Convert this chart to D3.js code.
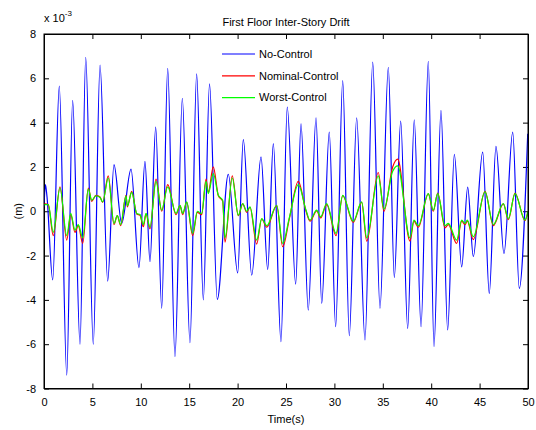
<!DOCTYPE html>
<html>
<head>
<meta charset="utf-8">
<script src="https://cdn.jsdelivr.net/npm/d3@7"></script>
<style>
body { margin: 0; background: #fff; }
svg { font-family: "Liberation Sans", Arial, sans-serif; }
.axis text { font-size: 11px; fill: #000; }
.axis line, .axis path { stroke: #000; }
</style>
</head>
<body>
<svg width="536" height="430"></svg>
<script>
// values (x 10^-3 m), extrema of each trace
var blueT = [0, 0.15, 0.3, 0.9, 1.58, 2.35, 2.96, 3.72, 4.31, 5.09, 5.79, 6.58, 7.23, 8.03, 8.99, 9.81,
  10.43, 10.95, 11.54, 12.16, 12.78, 13.53, 14.29, 15.08, 15.77, 16.46, 17.1, 17.9, 19.04, 20.01, 20.59,
  21.46, 22.42, 23.11, 23.69, 24.48, 25.13, 26.0, 26.55, 27.3, 28.1, 28.69, 29.47, 30.13, 30.86, 31.54,
  32.3, 33.16, 33.96, 34.71, 35.57, 36.19, 36.85, 37.57, 38.25, 38.95, 39.7, 40.29, 41.01, 41.7, 42.39,
  43.15, 43.77, 44.35, 45.32, 46.0, 46.69, 47.52, 48.42, 49.1, 49.97];
var noControl = [0.2, 1.2, 0.7, -3.1, 5.65, -7.4, 5.0, -6.0, 6.95, -6.0, 6.6, -3.15, 2.1, -0.55, 1.9, -2.55,
  2.25, -2.28, 3.8, -4.38, 6.45, -6.56, 5.1, -5.93, 6.2, -4.0, 5.75, -3.98, 1.67, -2.78, 3.23,
  -2.88, 2.45, -2.63, 3.05, -5.89, 4.7, -3.29, 3.95, -4.46, 4.22, -4.16, 3.57, -5.21, 5.9, -5.62,
  4.22, -5.81, 6.73, -4.38, 6.5, -2.99, 4.07, -5.29, 4.13, -5.21, 6.77, -6.11, 4.55, -5.36, 2.57,
  -2.51, 1.09, -2.05, 2.67, -3.71, 2.93, -1.91, 3.57, -3.48, 3.5];

var ctrlT = [0, 0.44, 0.96, 1.65, 2.35, 2.76, 3.2, 3.54, 4.0, 4.58, 4.93, 5.37, 5.79, 6.06, 6.64, 7.23,
  7.57, 7.92, 8.47, 8.61, 9.06, 9.58, 9.92, 10.26, 10.54, 10.95, 11.57, 12.16, 12.78, 13.64, 14.05,
  14.33, 14.74, 15.36, 15.84, 16.29, 16.74, 16.97, 17.49, 18.01, 18.46, 18.7, 19.45, 20.07, 20.53,
  20.94, 21.28, 21.97, 22.49, 23.01, 24.04, 24.66, 25.34, 26.27, 27.07, 27.48, 28.17, 28.58, 29.2,
  30.17, 30.86, 31.95, 32.82, 33.34, 34.53, 35.12, 36.02, 36.54, 37.81, 38.22, 38.67, 39.7, 40.22,
  40.67, 41.43, 41.77, 42.63, 43.15, 43.49, 43.73, 44.35, 45.56, 46.42, 47.45, 47.97, 48.66, 49.69, 50];
var nominalControl = [0.35, 0.3, -1.1, 1.1, -1.3, -0.15, -0.95, -0.65, -1.45, 1.05, 0.45, 0.72, 0.64, 0.4, 1.6, -0.6,
  -0.2, -0.65, 0.72, 0.2, 0.9, -0.12, -0.18, -0.7, -0.12, -0.8, 1.45, 0.0, 1.2, -0.15, 0.25,
  -0.15, 0.4, -1.1, -0.05, -0.15, 1.45, 0.85, 2.0, 0.7, 0.45, -1.4, 1.6, -0.2, 0.33,
  -0.05, 0.18, -1.48, -0.35, -0.72, 0.25, -1.6, -0.35, 1.35, 0.0, -0.45, 0.02, -0.3, 0.3,
  -1.1, 0.7, -0.5, 0.4, -1.35, 1.75, 0.0, 2.0, 2.35, -1.35, -0.45, -0.72, 0.78, 0.0,
  0.82, -0.75, -0.6, -1.45, -0.45, -0.6, -0.45, -1.28, 0.9, -0.65, 0.33, -0.38, 0.82, -0.42, 0.0];
var worstControl = [0.3, 0.3, -0.95, 1.05, -1.1, -0.1, -0.85, -0.6, -1.2, 1.0, 0.5, 0.7, 0.62, 0.42, 1.5, -0.55,
  -0.2, -0.6, 0.7, 0.25, 0.85, -0.1, -0.15, -0.6, -0.1, -0.72, 1.35, 0.05, 1.1, -0.1, 0.27,
  -0.1, 0.42, -1.0, 0.0, -0.1, 1.35, 0.8, 1.7, 0.72, 0.5, -1.2, 1.5, -0.18, 0.35,
  0.0, 0.2, -1.3, -0.33, -0.65, 0.27, -1.45, -0.3, 1.2, 0.05, -0.4, 0.05, -0.25, 0.35,
  -1.0, 0.72, -0.45, 0.42, -1.2, 1.6, 0.1, 1.8, 2.05, -1.2, -0.4, -0.65, 0.8, 0.05,
  0.8, -0.65, -0.55, -1.3, -0.4, -0.55, -0.4, -1.15, 0.87, -0.6, 0.35, -0.33, 0.8, -0.4, 0.0];

var xTicks = [0, 5, 10, 15, 20, 25, 30, 35, 40, 45, 50];
var yTicks = [-8, -6, -4, -2, 0, 2, 4, 6, 8];
var seriesNames = ["No-Control", "Nominal-Control", "Worst-Control"];
var seriesColors = ["#0000ff", "#ff0000", "#00ff00"];

var svg = d3.select("svg"),
    margin = {top: 34, right: 8, bottom: 41.5, left: 44},
    width = +svg.attr("width") - margin.left - margin.right,
    height = +svg.attr("height") - margin.top - margin.bottom;

var x = d3.scaleLinear().domain([0, 50]).range([0, width]);
var y = d3.scaleLinear().domain([-8, 8]).range([height, 0]);

var g = svg.append("g")
    .attr("transform", "translate(" + margin.left + "," + margin.top + ")");

g.append("clipPath").attr("id", "clip")
  .append("rect").attr("width", width).attr("height", height);

// ticks point inwards on all four sides
g.append("g")
    .attr("class", "axis")
    .attr("transform", "translate(0," + height + ")")
    .call(d3.axisBottom(x).tickValues(xTicks).tickSizeInner(-5).tickSizeOuter(0).tickPadding(10));

g.append("g")
    .attr("class", "axis")
    .call(d3.axisTop(x).tickValues(xTicks).tickSizeInner(-5).tickSizeOuter(0).tickFormat(""));

g.append("g")
    .attr("class", "axis")
    .call(d3.axisLeft(y).tickValues(yTicks).tickSizeInner(-5).tickSizeOuter(0).tickPadding(8)
      .tickFormat(function(d) { return String(d); }));

g.append("g")
    .attr("class", "axis")
    .attr("transform", "translate(" + width + ",0)")
    .call(d3.axisRight(y).tickValues(yTicks).tickSizeInner(-5).tickSizeOuter(0).tickFormat(""));

var series = [
  {t: blueT, v: noControl},
  {t: ctrlT, v: nominalControl},
  {t: ctrlT, v: worstControl}
];

var line = d3.line()
    .curve(d3.curveMonotoneX)
    .x(function(d) { return x(d[0]); })
    .y(function(d) { return y(d[1]); });

series.forEach(function(s, i) {
  g.append("path")
      .datum(d3.zip(s.t, s.v))
      .attr("clip-path", "url(#clip)")
      .attr("fill", "none")
      .attr("stroke", seriesColors[i])
      .attr("stroke-width", 1.2)
      .attr("d", line);
});

g.append("rect")
    .attr("width", width)
    .attr("height", height)
    .attr("fill", "none")
    .attr("stroke", "#000")
    .attr("stroke-width", 1);

// legend, no box
var legend = svg.append("g").attr("transform", "translate(222,54)");
seriesNames.forEach(function(name, i) {
  var row = legend.append("g").attr("transform", "translate(0," + (i * 21.8) + ")");
  row.append("line").attr("x1", 0).attr("x2", 33)
      .attr("stroke", seriesColors[i]).attr("stroke-width", 1.2);
  row.append("text").attr("x", 37).attr("dy", "0.35em")
      .style("font-size", "11px").text(name);
});

svg.append("text")
    .attr("x", margin.left + width / 2)
    .attr("y", 26)
    .attr("text-anchor", "middle")
    .style("font-size", "11px")
    .text("First Floor Inter-Story Drift");

var expo = svg.append("text")
    .attr("x", margin.left)
    .attr("y", 22)
    .style("font-size", "11px");
expo.append("tspan").text("x 10");
expo.append("tspan").attr("dy", -6).style("font-size", "8px").text("-3");

svg.append("text")
    .attr("x", margin.left + width / 2)
    .attr("y", 423)
    .attr("text-anchor", "middle")
    .style("font-size", "11px")
    .text("Time(s)");

svg.append("text")
    .attr("transform", "translate(22," + (margin.top + height / 2) + ") rotate(-90)")
    .attr("text-anchor", "middle")
    .style("font-size", "11px")
    .text("(m)");
</script>
</body>
</html>
